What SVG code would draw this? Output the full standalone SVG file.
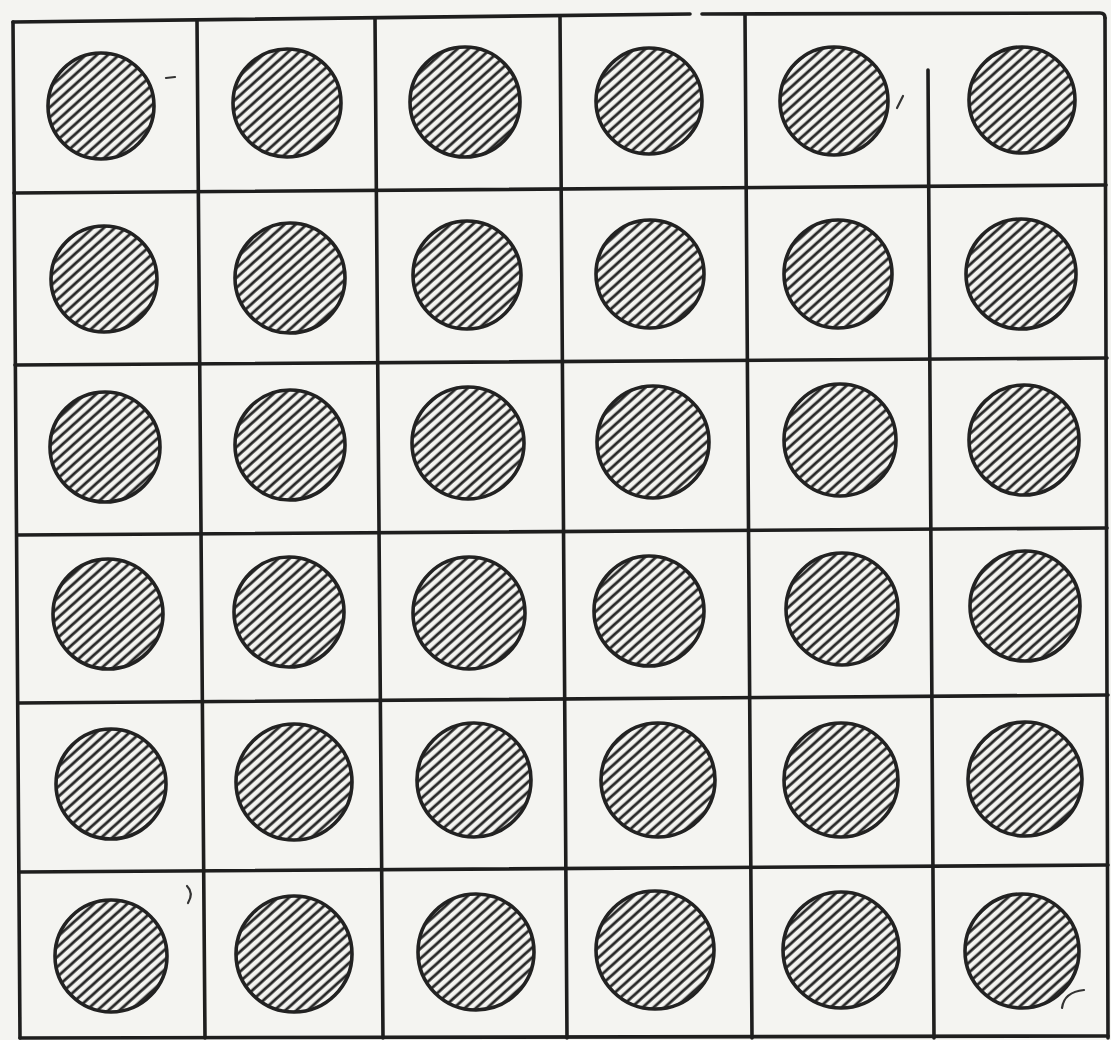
<svg xmlns="http://www.w3.org/2000/svg" width="1111" height="1040" viewBox="0 0 1111 1040">
<defs>
<pattern id="hatch" patternUnits="userSpaceOnUse" width="7.4" height="7.4" patternTransform="rotate(48)">
<rect width="7.4" height="7.4" fill="#f4f4f1"/>
<line x1="2" y1="-1" x2="2" y2="9" stroke="#262626" stroke-width="2.8"/>
</pattern>
</defs>
<style>
.g{stroke:#1e1e1e;stroke-width:3.6;fill:none;stroke-linecap:round}
.c{fill:url(#hatch);stroke:#222;stroke-width:3.6}
.m{stroke:#333;stroke-width:2.2;fill:none;stroke-linecap:round}
</style>
<rect width="1111" height="1040" fill="#f4f4f1"/>
<g id="grid">
<path class="g" d="M13 22 L690 14 M702 14 L1100 13 Q1105 13 1105 18"/>
<path class="g" d="M14 193 L1106 185"/>
<path class="g" d="M15 365 L1107 358"/>
<path class="g" d="M17 535 L1107 528"/>
<path class="g" d="M18 703 L1108 695"/>
<path class="g" d="M19 872 L1108 865"/>
<path class="g" d="M20 1038 L1108 1036"/>
<path class="g" d="M13 22 L20 1038"/>
<path class="g" d="M197 20 L205 1038"/>
<path class="g" d="M375 18 L383 1038"/>
<path class="g" d="M560 16 L567 1038"/>
<path class="g" d="M745 15 L752 1038"/>
<path class="g" d="M928 70 L934 1038"/>
<path class="g" d="M1105 18 L1108 1038"/>
</g>
<g id="r1c1"><circle class="c" cx="101" cy="106" r="53"/></g>
<g id="r1c2"><circle class="c" cx="287" cy="103" r="54"/></g>
<g id="r1c3"><circle class="c" cx="465" cy="102" r="55"/></g>
<g id="r1c4"><circle class="c" cx="649" cy="101" r="53"/></g>
<g id="r1c5"><circle class="c" cx="834" cy="101" r="54"/></g>
<g id="r1c6"><circle class="c" cx="1022" cy="100" r="53"/></g>
<g id="r2c1"><circle class="c" cx="104" cy="279" r="53"/></g>
<g id="r2c2"><circle class="c" cx="290" cy="278" r="55"/></g>
<g id="r2c3"><circle class="c" cx="467" cy="275" r="54"/></g>
<g id="r2c4"><circle class="c" cx="650" cy="274" r="54"/></g>
<g id="r2c5"><circle class="c" cx="838" cy="274" r="54"/></g>
<g id="r2c6"><circle class="c" cx="1021" cy="274" r="55"/></g>
<g id="r3c1"><circle class="c" cx="105" cy="447" r="55"/></g>
<g id="r3c2"><circle class="c" cx="290" cy="445" r="55"/></g>
<g id="r3c3"><circle class="c" cx="468" cy="443" r="56"/></g>
<g id="r3c4"><circle class="c" cx="653" cy="442" r="56"/></g>
<g id="r3c5"><circle class="c" cx="840" cy="440" r="56"/></g>
<g id="r3c6"><circle class="c" cx="1024" cy="440" r="55"/></g>
<g id="r4c1"><circle class="c" cx="108" cy="614" r="55"/></g>
<g id="r4c2"><circle class="c" cx="289" cy="612" r="55"/></g>
<g id="r4c3"><circle class="c" cx="469" cy="613" r="56"/></g>
<g id="r4c4"><circle class="c" cx="649" cy="611" r="55"/></g>
<g id="r4c5"><circle class="c" cx="842" cy="609" r="56"/></g>
<g id="r4c6"><circle class="c" cx="1025" cy="606" r="55"/></g>
<g id="r5c1"><circle class="c" cx="111" cy="784" r="55"/></g>
<g id="r5c2"><circle class="c" cx="294" cy="782" r="58"/></g>
<g id="r5c3"><circle class="c" cx="474" cy="780" r="57"/></g>
<g id="r5c4"><circle class="c" cx="658" cy="780" r="57"/></g>
<g id="r5c5"><circle class="c" cx="841" cy="780" r="57"/></g>
<g id="r5c6"><circle class="c" cx="1025" cy="779" r="57"/></g>
<g id="r6c1"><circle class="c" cx="111" cy="956" r="56"/></g>
<g id="r6c2"><circle class="c" cx="294" cy="954" r="58"/></g>
<g id="r6c3"><circle class="c" cx="476" cy="952" r="58"/></g>
<g id="r6c4"><circle class="c" cx="655" cy="950" r="59"/></g>
<g id="r6c5"><circle class="c" cx="841" cy="950" r="58"/></g>
<g id="r6c6"><circle class="c" cx="1022" cy="951" r="57"/></g>
<g id="marks">
<path class="m" d="M166 78 L175 77"/>
<path class="m" d="M897 108 L903 96"/>
<path class="m" d="M187 886 Q194 893 188 903"/>
<path class="m" d="M1062 1008 Q1064 992 1084 990"/>
</g>
</svg>
